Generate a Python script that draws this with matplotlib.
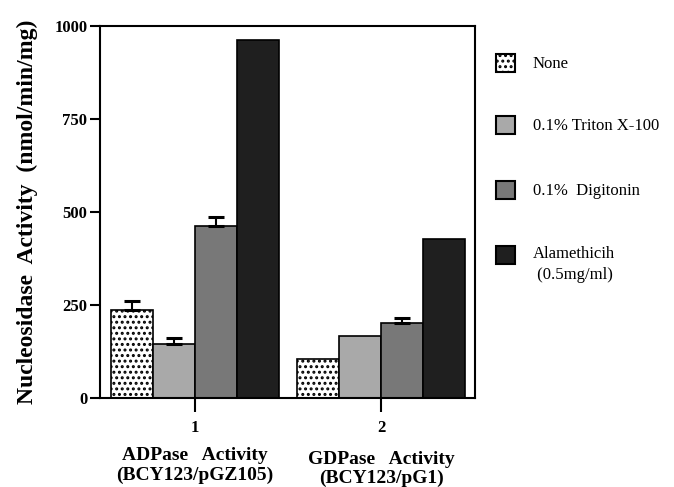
import matplotlib
matplotlib.use("Agg")
import matplotlib.pyplot as plt
from matplotlib.patches import Rectangle
import numpy as np

plt.rcParams['font.family'] = ['Liberation Serif', 'DejaVu Serif']
plt.rcParams['hatch.linewidth'] = 1.4

groups = [1, 2]
group_line1 = ["ADPase   Activity", "GDPase   Activity"]
group_line2 = ["(BCY123/pGZ105)", "(BCY123/pG1)"]
treatments = ["None", "0.1% Triton X-100", "0.1%  Digitonin", "Alamethicih\n (0.5mg/ml)"]
values = {
    "None": [236, 106],
    "0.1% Triton X-100": [146, 167],
    "0.1%  Digitonin": [462, 201],
    "Alamethicih\n (0.5mg/ml)": [963, 427],
}
errors = {
    "None": [25, 0],
    "0.1% Triton X-100": [15, 0],
    "0.1%  Digitonin": [25, 15],
    "Alamethicih\n (0.5mg/ml)": [0, 0],
}
colors = ["white", "#a9a9a9", "#787878", "#1f1f1f"]
hatches = ["...", None, None, None]
yticks = [0, 250, 500, 750, 1000]

fig = plt.figure(figsize=(6.74, 4.87), dpi=100)
ax = fig.add_axes([100/674, 1-398/487, 375/674, 372/487])

width = 0.225
x = np.array(groups, dtype=float)
offsets = (np.arange(len(treatments)) - 1.5) * width
for i, t in enumerate(treatments):
    ax.bar(x + offsets[i], values[t], width, color=colors[i], edgecolor="black",
           linewidth=1.2, hatch=hatches[i], zorder=2)
    err = np.array(errors[t])
    mask = err > 0
    if mask.any():
        xs = (x + offsets[i])[mask]
        ys = np.array(values[t])[mask]
        ax.errorbar(xs, ys, yerr=[np.zeros(mask.sum()), err[mask]], fmt="none",
                    ecolor="black", elinewidth=1.5, capsize=6, capthick=2.2, zorder=3)

ax.set_xlim(0.49, 2.505)
ax.set_ylim(0, 1000)
ax.set_yticks(yticks)
ax.set_yticklabels([str(v) for v in yticks], fontweight="bold", fontsize=12)
ax.set_xticks(groups)
ax.set_xticklabels([str(g) for g in groups], fontweight="bold", fontsize=12)
ax.tick_params(axis="y", direction="out", length=7, width=1.5, pad=2)
ax.tick_params(axis="x", direction="out", length=10, width=1.5, pad=6)
for s in ax.spines.values():
    s.set_linewidth(1.5)

ax.set_ylabel("Nucleosidase  Activity  (nmol/min/mg)", fontweight="bold", fontsize=17)
ax.yaxis.set_label_coords(-62/375, 0.5)

for g, l1, l2, dy in zip(groups, group_line1, group_line2, [0, 3]):
    ax.annotate(l1, xy=(g, 0), xycoords=("data", "axes fraction"),
                xytext=(0, -(58 + dy) * 0.72), textcoords="offset points",
                ha="center", va="center", fontweight="bold", fontsize=14)
    ax.annotate(l2, xy=(g, 0), xycoords=("data", "axes fraction"),
                xytext=(0, -(77 + dy) * 0.72), textcoords="offset points",
                ha="center", va="center", fontweight="bold", fontsize=14)

# legend
leg_y = [63, 125, 190, 255]
for i, t in enumerate(treatments):
    yc = 1 - leg_y[i] / 487
    r = Rectangle((496/674, yc - 9/487), 19/674, 18/487, transform=fig.transFigure,
                  facecolor=colors[i], edgecolor="black", linewidth=1.5, hatch=hatches[i])
    fig.patches.append(r)
    if "\n" in t:
        fig.text(533/674, yc + 9/487, t, ha="left", va="top", fontsize=12, linespacing=1.4)
    else:
        fig.text(533/674, yc - 1/487, t, ha="left", va="center", fontsize=12)

fig.savefig("out.png", dpi=100)
